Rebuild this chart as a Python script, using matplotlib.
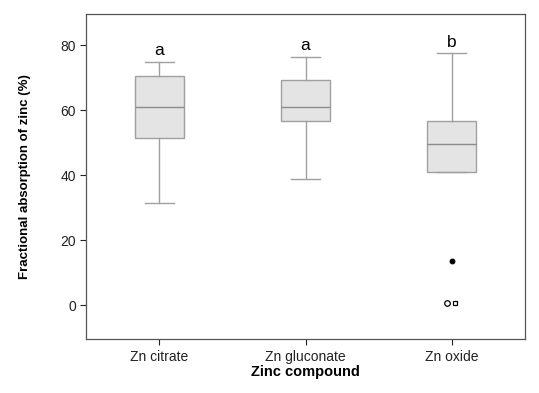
import matplotlib
matplotlib.use("Agg")
import matplotlib.pyplot as plt

plt.rcParams['font.family'] = ['Liberation Sans', 'DejaVu Sans']

# data
groups = ["Zn citrate", "Zn gluconate", "Zn oxide"]
whislo = [31.4, 38.8, 40.8]
q1 = [51.4, 56.6, 40.8]
med = [60.8, 61.0, 49.6]
q3 = [70.6, 69.3, 56.7]
whishi = [74.9, 76.4, 77.4]
letters = ["a", "a", "b"]

# outliers of Zn oxide: value, marker, filled
out_vals = [13.6, 0.7, 0.7]
out_marks = ["o", "o", "s"]
out_fill = [True, False, False]
out_shift = [0.0, -0.035, 0.02]

fig = plt.figure(figsize=(5.39, 3.93), dpi=100)
ax = fig.add_axes([0.16, 0.137, 0.814, 0.827])

stats = []
for i, g in enumerate(groups):
    stats.append(dict(label=g, whislo=whislo[i], q1=q1[i], med=med[i],
                      q3=q3[i], whishi=whishi[i], fliers=[]))

edge = "#a0a0a0"
ax.bxp(stats, positions=[1, 2, 3], widths=0.335, capwidths=0.2,
       patch_artist=True, showfliers=False,
       boxprops=dict(facecolor="#e4e4e4", edgecolor=edge, linewidth=1),
       medianprops=dict(color="#8c8c8c", linewidth=1),
       whiskerprops=dict(color=edge, linewidth=1),
       capprops=dict(color=edge, linewidth=1))

for v, m, f, s in zip(out_vals, out_marks, out_fill, out_shift):
    ax.plot(3 + s, v, marker=m, markersize=3.3 if f else (4 if m == "o" else 3.5),
            markerfacecolor="black" if f else "white",
            markeredgecolor="black", markeredgewidth=0.9, linestyle="none")

for i, t in enumerate(letters):
    ax.text(i + 1, whishi[i] + 1.2, t, ha="center", va="bottom", fontsize=12.5)

ax.set_xlim(0.5, 3.5)
ax.set_ylim(-10.5, 89.5)
ax.set_yticks([0, 20, 40, 60, 80])
ax.tick_params(labelsize=10, colors="#222222", length=4, width=0.8)
for sp in ax.spines.values():
    sp.set_color("#555555")
    sp.set_linewidth(0.9)

ax.set_xlabel("Zinc compound", fontsize=10.5, fontweight="bold", labelpad=1)
ax.set_ylabel("Fractional absorption of zinc (%)", fontsize=9.5,
              fontweight="bold", labelpad=21)

fig.savefig("out.png", dpi=100)
